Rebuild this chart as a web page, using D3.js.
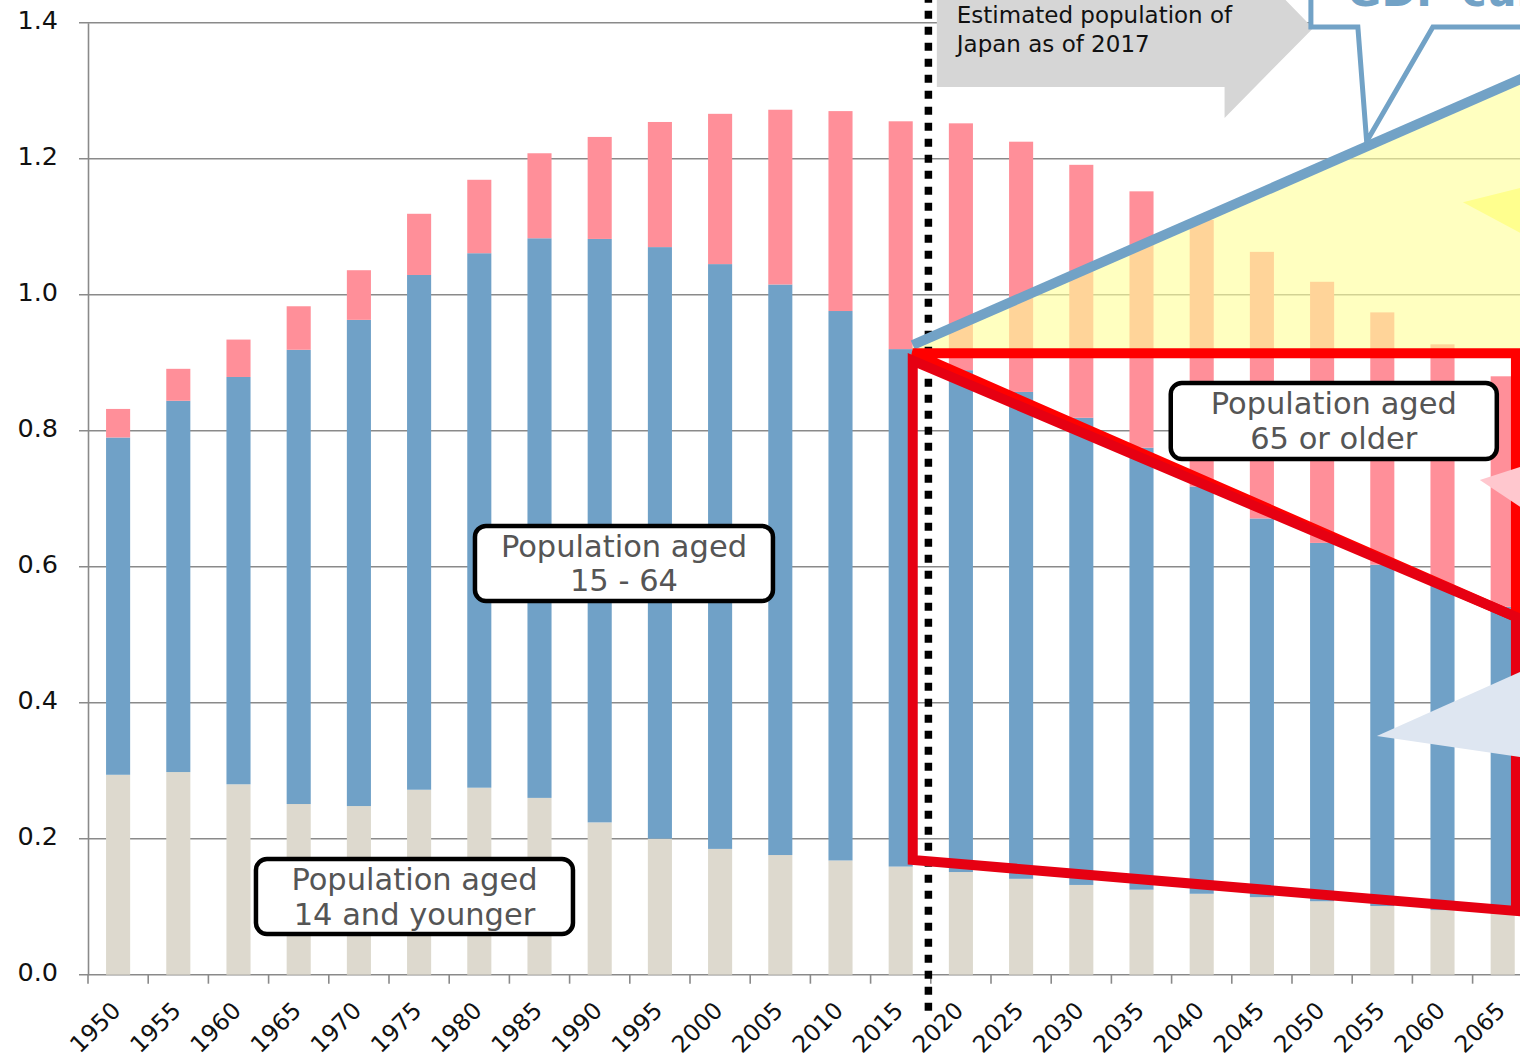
<!DOCTYPE html>
<html lang="en">
<head>
    <meta charset="UTF-8">
    <title>Population of Japan by age group</title>
    <script src="https://d3js.org/d3.v7.min.js"></script>
    <style>
        body {
            margin: 0;
            background: white;
        }
        svg {
            display: block;
            font-family: "DejaVu Sans", Verdana, sans-serif;
        }
    </style>
</head>
<body>
<svg id="viz"></svg>
<script>
    // population, in units of 100 million
    var years = ["1950", "1955", "1960", "1965", "1970", "1975", "1980", "1985", "1990", "1995", "2000", "2005",
        "2010", "2015", "2020", "2025", "2030", "2035", "2040", "2045", "2050", "2055", "2060", "2065"];
    var age0to14 = [0.294, 0.298, 0.280, 0.251, 0.248, 0.272, 0.275, 0.260, 0.224, 0.200, 0.185, 0.176,
        0.168, 0.159, 0.151, 0.141, 0.132, 0.125, 0.119, 0.114, 0.108, 0.101, 0.095, 0.090];
    var age15to64 = [0.496, 0.546, 0.599, 0.668, 0.715, 0.757, 0.786, 0.823, 0.858, 0.870, 0.860, 0.839,
        0.808, 0.761, 0.738, 0.716, 0.687, 0.650, 0.599, 0.557, 0.527, 0.502, 0.477, 0.451];
    var age65plus = [0.042, 0.047, 0.055, 0.064, 0.073, 0.090, 0.108, 0.125, 0.150, 0.184, 0.221, 0.257,
        0.294, 0.335, 0.363, 0.368, 0.372, 0.377, 0.392, 0.392, 0.384, 0.371, 0.355, 0.339];
    var yTicks = [0, 0.2, 0.4, 0.6, 0.8, 1.0, 1.2, 1.4];

    var keys = ["young", "working", "old"];
    var colors = {young: "#ddd9ce", working: "#70a1c7", old: "#ff8f99"};

    var table = years.map(function (d, i) {
        return {year: d, young: age0to14[i], working: age15to64[i], old: age65plus[i]};
    });

    var width = 1520, height = 1059;
    var step = 60.2;

    var svg = d3.select("#viz")
        .attr("width", width)
        .attr("height", height);

    var xScale = d3.scaleBand()
        .domain(years)
        .range([88, 88 + step * years.length])
        .paddingInner(0.6)
        .paddingOuter(0.3);

    var yScale = d3.scaleLinear()
        .domain([0, 1.4])
        .range([974.7, 22.7]);

    // year -> bar centre, used to place the annotations
    var half = xScale.bandwidth() / 2;
    var yr = d3.scaleLinear()
        .domain([1950, 2065])
        .range([xScale("1950") + half, xScale("2065") + half]);

    function pt(a, b) {
        return [yr(a), yScale(b)];
    }

    // grid
    svg.append("g")
        .selectAll("line")
        .data(yTicks)
        .enter()
        .append("line")
        .attr("x1", 79)
        .attr("x2", xScale.range()[1])
        .attr("y1", function (d) { return yScale(d); })
        .attr("y2", function (d) { return yScale(d); })
        .attr("stroke", "#8a8a8a")
        .attr("stroke-width", 1.6);

    // y axis
    var yAxis = d3.axisLeft(yScale)
        .tickValues(yTicks)
        .tickFormat(d3.format(".1f"))
        .tickSize(0)
        .tickPadding(30);
    var gy = svg.append("g")
        .attr("transform", "translate(88,0)")
        .call(yAxis);
    gy.select(".domain").attr("stroke", "#8a8a8a").attr("stroke-width", 1.6);
    gy.selectAll("text")
        .attr("font-size", 25.5)
        .attr("font-family", "DejaVu Sans")
        .attr("fill", "#111")
        .attr("dy", "0.21em");

    // x axis ticks at category boundaries
    var bounds = d3.range(years.length + 1).map(function (i) {
        return xScale.range()[0] + i * xScale.step();
    });
    svg.append("g")
        .selectAll("line")
        .data(bounds)
        .enter()
        .append("line")
        .attr("x1", function (d) { return d; })
        .attr("x2", function (d) { return d; })
        .attr("y1", yScale(0))
        .attr("y2", yScale(0) + 9)
        .attr("stroke", "#8a8a8a")
        .attr("stroke-width", 1.6);

    svg.append("g")
        .selectAll("text")
        .data(years)
        .enter()
        .append("text")
        .attr("transform", function (d) {
            return "translate(" + (xScale(d) + half + 4) + ",1012) rotate(-45)";
        })
        .attr("text-anchor", "end")
        .attr("font-size", 23.5)
        .attr("fill", "#111")
        .text(function (d) { return d; });

    // stacked bars
    var series = d3.stack().keys(keys)(table);
    svg.append("g")
        .selectAll("g")
        .data(series)
        .enter()
        .append("g")
        .attr("fill", function (s) { return colors[s.key]; })
        .selectAll("rect")
        .data(function (s) { return s; })
        .enter()
        .append("rect")
        .attr("x", function (d) { return xScale(d.data.year); })
        .attr("width", xScale.bandwidth())
        .attr("y", function (d) { return yScale(d[1]); })
        .attr("height", function (d) { return yScale(d[0]) - yScale(d[1]); });

    var line = d3.line();
    var ann = svg.append("g");

    // yellow GDP wedge
    ann.append("path")
        .attr("d", line([pt(2016.0, 0.926), pt(2067.3, 1.3234), pt(2067.3, 0.914), pt(2016.0, 0.914)]) + "Z")
        .attr("fill", "#ffff9a")
        .attr("fill-opacity", 0.62);

    // dotted line: estimate as of 2017
    ann.append("line")
        .attr("x1", yr(2017.3)).attr("x2", yr(2017.3))
        .attr("y1", yScale(1.4412)).attr("y2", yScale(-0.053))
        .attr("stroke", "#000")
        .attr("stroke-width", 7.5)
        .attr("stroke-dasharray", "8,8");

    // GDP line
    ann.append("path")
        .attr("d", line([pt(2016.0, 0.926), pt(2067.3, 1.3234)]))
        .attr("stroke", "#72a2c6")
        .attr("stroke-width", 10)
        .attr("fill", "none");

    // red frames
    ann.append("path")
        .attr("d", line([pt(2016.0, 0.914), pt(2066.1, 0.914), pt(2066.1, 0.526)]) + "Z")
        .attr("stroke", "#ff0000")
        .attr("stroke-width", 10)
        .attr("fill", "none");
    ann.append("path")
        .attr("d", line([pt(2016.0, 0.903), pt(2016.0, 0.1687), pt(2066.1, 0.0937), pt(2066.1, 0.526)]) + "Z")
        .attr("stroke", "#e60012")
        .attr("stroke-width", 10)
        .attr("stroke-linejoin", "miter")
        .attr("fill", "none");

    // arrow heads coming in from the right
    var heads = [
        {p: [pt(2061.7, 1.136), pt(2067.3, 1.1606), pt(2067.3, 1.0828)], c: "#ffff8e"},
        {p: [pt(2063.1, 0.7275), pt(2067.3, 0.7515), pt(2067.3, 0.6778)], c: "#ffc7ce"},
        {p: [pt(2054.55, 0.351), pt(2067.3, 0.4518), pt(2067.3, 0.3179)], c: "#dee6f1"}
    ];
    ann.selectAll("path.head")
        .data(heads)
        .enter()
        .append("path")
        .attr("class", "head")
        .attr("d", function (d) { return line(d.p) + "Z"; })
        .attr("fill", function (d) { return d.c; });

    // label boxes
    var boxes = [
        {x0: 1979.64, x1: 2004.39, y0: 0.660, y1: 0.5496, lines: ["Population aged", "15 - 64"]},
        {x0: 1961.45, x1: 1987.78, y0: 0.1701, y1: 0.0599, lines: ["Population aged", "14 and younger"]},
        {x0: 2037.43, x1: 2064.51, y0: 0.8701, y1: 0.7584, lines: ["Population aged", "65 or older"]}
    ];
    var bx = ann.selectAll("g.box")
        .data(boxes)
        .enter()
        .append("g")
        .attr("class", "box");
    bx.append("rect")
        .attr("x", function (d) { return yr(d.x0); })
        .attr("y", function (d) { return yScale(d.y0); })
        .attr("width", function (d) { return yr(d.x1) - yr(d.x0); })
        .attr("height", function (d) { return yScale(d.y1) - yScale(d.y0); })
        .attr("rx", 11)
        .attr("fill", "white")
        .attr("stroke", "#000")
        .attr("stroke-width", 4.5);
    bx.each(function (d) {
        var cx = (yr(d.x0) + yr(d.x1)) / 2;
        var top = yScale(d.y0);
        d3.select(this).selectAll("text")
            .data(d.lines)
            .enter()
            .append("text")
            .attr("x", cx)
            .attr("y", function (t, i) { return top + 31 + i * 34.5; })
            .attr("text-anchor", "middle")
            .attr("font-size", 30.5)
            .attr("fill", "#555")
            .text(function (t) { return t; });
    });

    // grey arrow: estimated population
    ann.append("path")
        .attr("d", line([pt(2018.0, 1.479), pt(2041.9, 1.479), pt(2041.9, 1.525), pt(2049.25, 1.392),
            pt(2041.9, 1.2599), pt(2041.9, 1.3054), pt(2018.0, 1.3054)]) + "Z")
        .attr("fill", "#d6d6d6");
    ann.selectAll("text.est")
        .data(["Estimated population of", "Japan as of 2017"])
        .enter()
        .append("text")
        .attr("class", "est")
        .attr("x", yr(2019.66))
        .attr("y", function (t, i) { return yScale(i ? 1.357 : 1.4) ; })
        .attr("font-size", 23)
        .attr("fill", "#111")
        .text(function (t) { return t; });

    // GDP callout at the top
    ann.append("path")
        .attr("d", line([pt(2049.07, 1.48), pt(2049.07, 1.3937), pt(2052.97, 1.3937), pt(2053.7, 1.2254),
            pt(2059.2, 1.3937), pt(2070, 1.3937), pt(2070, 1.48)]))
        .attr("fill", "white")
        .attr("stroke", "#72a2c6")
        .attr("stroke-width", 5);
    ann.append("text")
        .attr("x", yr(2052.07))
        .attr("y", yScale(1.4246))
        .attr("font-size", 42)
        .attr("font-weight", "bold")
        .attr("fill", "#72a2c6")
        .text("GDP curve");
</script>
</body>
</html>
